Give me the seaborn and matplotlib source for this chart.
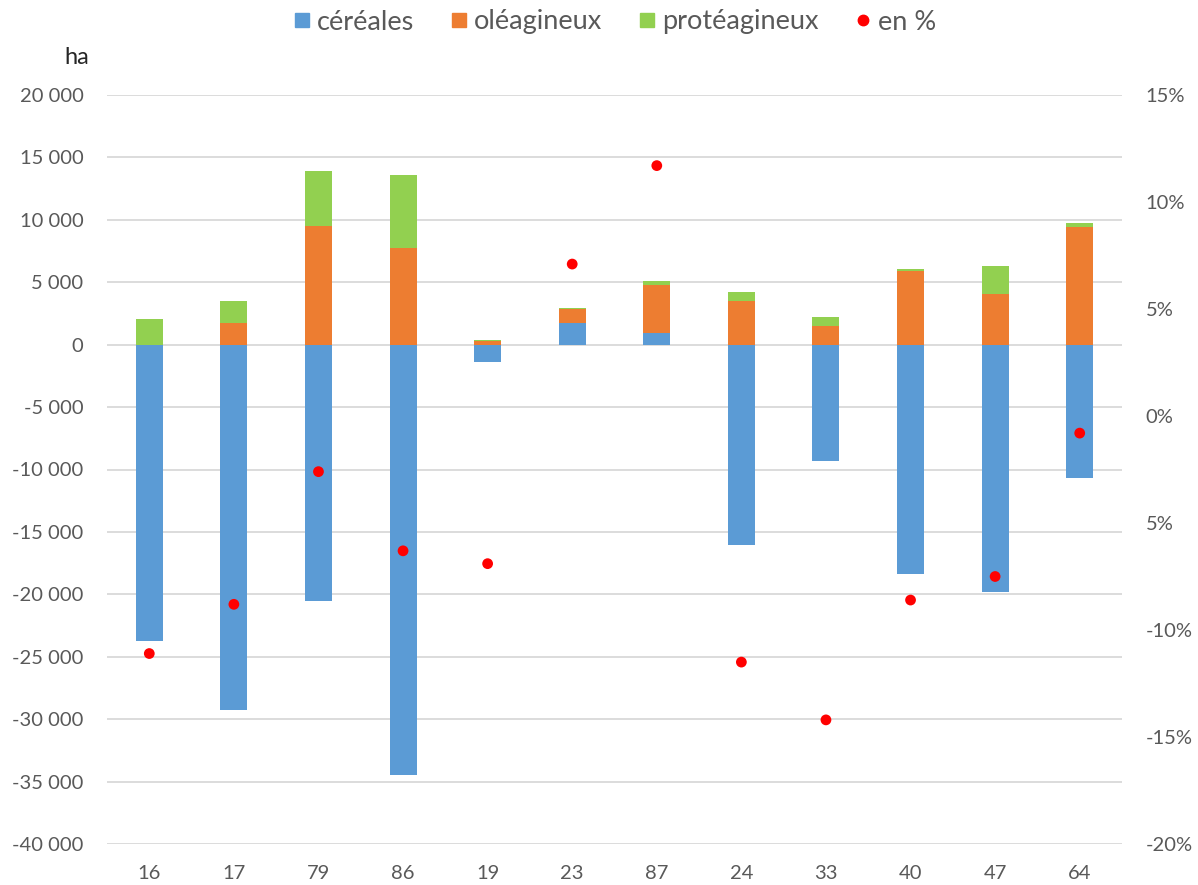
import numpy as np
import matplotlib
matplotlib.use("Agg")
import matplotlib.pyplot as plt
import seaborn as sns
from matplotlib.lines import Line2D

# ===== Data =====
departements = ["16", "17", "79", "86", "19", "23", "87", "24", "33", "40", "47", "64"]
cereales = [-23700, -29250, -20500, -34500, -1400, 1700, 950, -16050, -9300, -18350, -19850, -10650]
oleagineux = [0, 1750, 9530, 7770, 270, 1180, 3850, 3510, 1530, 5920, 4070, 9450]
proteagineux = [2050, 1770, 4420, 5860, 110, 80, 320, 720, 690, 160, 2250, 330]
en_pct = [-11.1, -8.8, -2.6, -6.3, -6.9, 7.1, 11.7, -11.5, -14.2, -8.6, -7.5, -0.8]

left_ticks = list(range(-40000, 20001, 5000))
left_labels = ["-40 000", "-35 000", "-30 000", "-25 000", "-20 000", "-15 000", "-10 000",
               "-5 000", "0", "5 000", "10 000", "15 000", "20 000"]
right_ticks = [-20, -15, -10, -5, 0, 5, 10, 15]
right_labels = ["-20%", "-15%", "-10%", "5%", "0%", "5%", "10%", "15%"]

c_blue, c_orange, c_green = "#5B9BD5", "#ED7D31", "#92D050"
txt = "#595959"

sns.set_style("white")
plt.rcParams["font.family"] = ["Lato", "DejaVu Sans"]

# stacked heights (positive parts stack above the positive cereal part)
cer_pos = np.clip(cereales, 0, None)
top_ole = cer_pos + np.array(oleagineux)
top_prot = top_ole + np.array(proteagineux)

fig = plt.figure(figsize=(11.98, 8.85), dpi=100)
ax = fig.add_axes([107 / 1198, 1 - 844 / 885, (1122 - 107) / 1198, (844 - 95) / 885])

for y_val, col in [(top_prot, c_green), (top_ole, c_orange), (cereales, c_blue)]:
    sns.barplot(x=departements, y=y_val, color=col, saturation=1, width=0.32,
                ax=ax, order=departements, zorder=2, linewidth=0, edgecolor="none")

ax.set_xlim(-0.5, len(departements) - 0.5)
ax.set_ylim(-40000, 20000)
ax.set_yticks(left_ticks)
ax.set_yticklabels(left_labels)
ax.grid(axis="y", color="#d9d9d9", linewidth=1.3, zorder=0)
ax.set_axisbelow(True)
ax.tick_params(axis="y", length=0, pad=17, labelsize=14.5, labelcolor=txt)
ax.tick_params(axis="x", length=0, pad=15, labelsize=14.5, labelcolor=txt)
ax.set_xlabel("")
ax.set_ylabel("")
for s in ax.spines.values():
    s.set_visible(False)

# ===== Right axis: en % =====
ax2 = ax.twinx()
sns.scatterplot(x=np.arange(len(departements)), y=en_pct, color="red", s=60,
                edgecolor="none", ax=ax2, zorder=3, legend=False)
ax2.set_ylim(-20, 15)
ax2.set_yticks(right_ticks)
ax2.set_yticklabels(right_labels)
ax2.tick_params(axis="y", length=0, pad=17, labelsize=14.5, labelcolor=txt)
ax2.set_ylabel("")
for s in ax2.spines.values():
    s.set_visible(False)

fig.text(77 / 1198, 1 - 58 / 885, "ha", ha="center", va="center", fontsize=17, color="#262626")

handles = [
    Line2D([], [], marker="s", linestyle="none", color=c_blue, markersize=10.5),
    Line2D([], [], marker="s", linestyle="none", color=c_orange, markersize=10.5),
    Line2D([], [], marker="s", linestyle="none", color=c_green, markersize=10.5),
    Line2D([], [], marker="o", linestyle="none", color="red", markersize=7.5),
]
fig.legend(handles, ["céréales", "oléagineux", "protéagineux", "en %"], loc="center",
           bbox_to_anchor=(614 / 1198, 1 - 22 / 885), ncol=4, frameon=False,
           fontsize=19.5, labelcolor=txt, handletextpad=0.15, columnspacing=1.25,
           handlelength=0.8)

fig.savefig("out.png", dpi=100)
